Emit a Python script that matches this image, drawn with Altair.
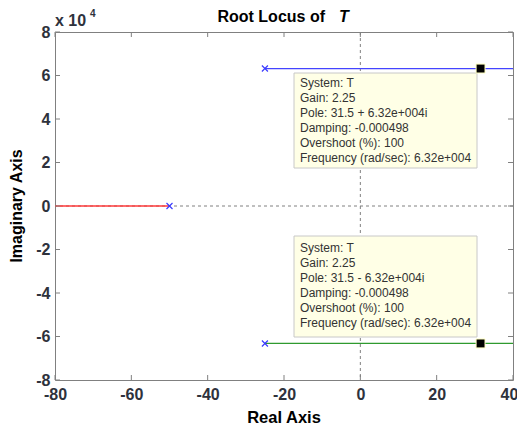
import altair as alt
import pandas as pd

# ---- data (imaginary values in units of 1e4) ----
x_ticks = [-80, -60, -40, -20, 0, 20, 40]
y_ticks = [-8, -6, -4, -2, 0, 2, 4, 6, 8]

red_x = [-80, -50]
red_y = [0, 0]
blue_x = [-25, 40]
blue_y = [6.32, 6.32]
green_x = [-25, 40]
green_y = [-6.32, -6.32]
pole_x = [-50, -25, -25]
pole_y = [0, 6.32, -6.32]
sel_x = [31.5, 31.5]
sel_y = [6.32, -6.32]

tip_upper = ["System: T", "Gain: 2.25", "Pole: 31.5 + 6.32e+004i", "Damping: -0.000498",
             "Overshoot (%): 100", "Frequency (rad/sec): 6.32e+004"]
tip_lower = ["System: T", "Gain: 2.25", "Pole: 31.5 - 6.32e+004i", "Damping: -0.000498",
             "Overshoot (%): 100", "Frequency (rad/sec): 6.32e+004"]

W, H = 458, 348
FONT = "Liberation Sans"
LBL = "#2e323c"
GRAY = "#808080"

xs = alt.Scale(domain=[-80, 40], nice=False, zero=False)
ys = alt.Scale(domain=[-8, 8], nice=False, zero=False)
xaxis = alt.Axis(values=x_ticks, ticks=False, domain=False, grid=False, title=None,
                 labelFont=FONT, labelFontSize=16, labelFontWeight="bold", labelColor=LBL,
                 labelPadding=6, labelFlush=False, labelOverlap=False,
                 labelOffset={"condition": {"test": "datum.value == 40", "value": -4}, "value": 0},
                 labelExpr="'' + datum.value")
yaxis = alt.Axis(values=y_ticks, ticks=False, domain=False, grid=False, title=None,
                 labelFont=FONT, labelFontSize=16, labelFontWeight="bold", labelColor=LBL,
                 labelPadding=5, labelFlush=False, labelOverlap=False,
                 labelExpr="'' + datum.value")

def X():
    return alt.X("x:Q", scale=xs, axis=xaxis)

def Y():
    return alt.Y("y:Q", scale=ys, axis=yaxis)

one = pd.DataFrame({"a": [0]})

# zero dashed lines
zero_h = alt.Chart(pd.DataFrame({"y": [0]})).mark_rule(color=GRAY, strokeDash=[3, 3], strokeWidth=1).encode(y=Y())
zero_v = alt.Chart(pd.DataFrame({"x": [0]})).mark_rule(color=GRAY, strokeDash=[3, 3], strokeWidth=1).encode(x=X())

def line(xv, yv, col):
    return alt.Chart(pd.DataFrame({"x": xv, "y": yv})).mark_line(color=col, strokeWidth=1.3, clip=True).encode(x=X(), y=Y())

red = line(red_x, red_y, "#ff3a3a")
blue = line(blue_x, blue_y, "#4444ff")
green = line(green_x, green_y, "#2f9a2f")

poles = alt.Chart(pd.DataFrame({"x": pole_x, "y": pole_y})).mark_point(
    shape="M-1,-1L1,1M-1,1L1,-1", size=36, filled=False, color="#3c3cff", strokeWidth=1.2, opacity=1
).encode(x=X(), y=Y())

sel = alt.Chart(pd.DataFrame({"x": sel_x, "y": sel_y})).mark_square(
    size=80, color="black", stroke="#ffffc0", strokeWidth=1, opacity=1
).encode(x=X(), y=Y())

# inside ticks (all four sides)
xt = pd.DataFrame({"x": x_ticks})
yt = pd.DataFrame({"y": y_ticks})
tick_top = alt.Chart(xt).mark_rule(color=GRAY).encode(x=X(), y=alt.value(0), y2=alt.value(5))
tick_bot = alt.Chart(xt).mark_rule(color=GRAY).encode(x=X(), y=alt.value(H), y2=alt.value(H - 5))
tick_left = alt.Chart(yt).mark_rule(color=GRAY).encode(y=Y(), x=alt.value(0), x2=alt.value(5))
tick_right = alt.Chart(yt).mark_rule(color=GRAY).encode(y=Y(), x=alt.value(W), x2=alt.value(W - 5))

# data tips
def tip(lines, top, bottom, text_top):
    box = alt.Chart(one).mark_rect(fill="#ffffe6", stroke="#c8c8c8", strokeWidth=1).encode(
        x=alt.value(239), x2=alt.value(422), y=alt.value(top), y2=alt.value(bottom))
    txt = alt.Chart(pd.DataFrame({"t": ["\n".join(lines)]})).mark_text(
        lineBreak="\n", align="left", baseline="top", lineHeight=15, font=FONT,
        fontSize=12, color="#333333").encode(text="t:N", x=alt.value(245), y=alt.value(text_top))
    return box + txt

tip_u = tip(tip_upper, 41, 136, 46)
tip_l = tip(tip_lower, 204, 305, 211)

# titles / labels
def label(text, x, y, size=16.5, align="center", angle=0, style="normal", color="black", weight="bold"):
    return alt.Chart(pd.DataFrame({"t": [text]})).mark_text(
        font=FONT, fontSize=size, fontWeight=weight, fontStyle=style, align=align,
        baseline="middle", angle=angle, color=color).encode(
        text="t:N", x=alt.value(x), y=alt.value(y))

title1 = label("Root Locus of", 270, -15, size=16, align="right")
title2 = label("T", 284, -15, size=16, align="left", style="italic")
xtitle = label("Real Axis", 229, 386)
ytitle = label("Imaginary Axis", -38, 174, size=16, angle=270)
exp1 = label("x 10", 0, -11, size=16, align="left", color=LBL)
exp2 = label("4", 35, -18, size=10, align="left", color=LBL)

chart = alt.layer(
    zero_h, zero_v, red, blue, green, poles, tip_u, tip_l, sel,
    tick_top, tick_bot, tick_left, tick_right,
    title1, title2, xtitle, ytitle, exp1, exp2
).properties(
    width=W, height=H,
    autosize=alt.AutoSizeParams(type="none"),
    padding={"left": 47, "top": 24, "right": 4, "bottom": 46},
).configure_view(stroke=GRAY, strokeWidth=1)

chart.save("out.html", embed_options={"renderer": "svg", "actions": False})
